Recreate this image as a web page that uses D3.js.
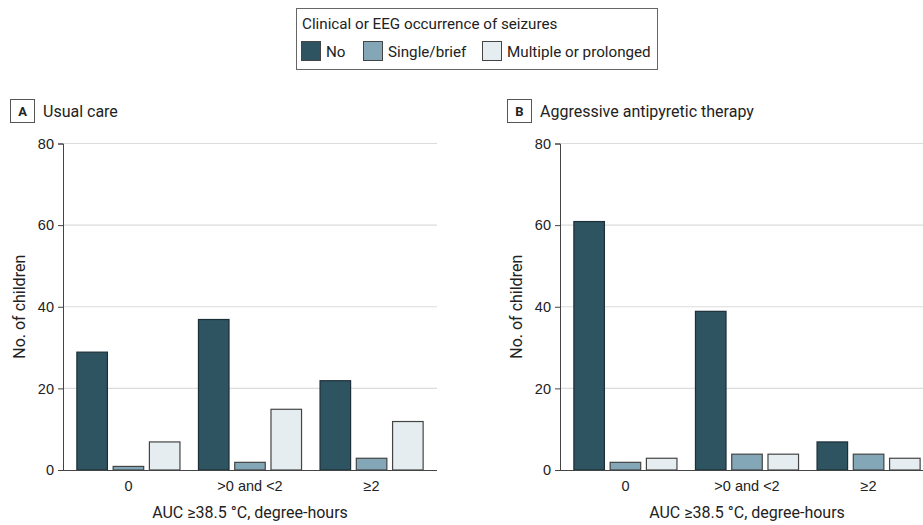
<!DOCTYPE html>
<html>
<head>
<meta charset="utf-8">
<script src="https://cdn.jsdelivr.net/npm/d3@7"></script>
<style>
  body { margin: 0; background: #fff; }
  svg { font-family: Roboto, "Open Sans", sans-serif; }
</style>
</head>
<body>
<svg id="chart" width="923" height="525"></svg>
<script>
'use strict';

const categories = ['0', '>0 and <2', '≥2'];
const seriesNames = ['No', 'Single/brief', 'Multiple or prolonged'];
const seriesColors = ['#2e5361', '#83a7b6', '#e6edf0'];
const yTicks = [0, 20, 40, 60, 80];

// counts per category, one array per series
const usualNo = [29, 37, 22];
const usualSingle = [1, 2, 3];
const usualMultiple = [7, 15, 12];

const aggressiveNo = [61, 39, 7];
const aggressiveSingle = [2, 4, 4];
const aggressiveMultiple = [3, 4, 3];

const panels = [
  {letter: 'A', title: 'Usual care', left: 63, series: [usualNo, usualSingle, usualMultiple]},
  {letter: 'B', title: 'Aggressive antipyretic therapy', left: 560, series: [aggressiveNo, aggressiveSingle, aggressiveMultiple]}
];

const svg = d3.select('#chart');
const plotW = 374, plotTop = 143.5, plotBottom = 470;

const y = d3.scaleLinear().domain([0, 80]).range([plotBottom, plotTop]);

// legend
const legend = svg.append('g');
legend.append('rect').attr('x', 296.5).attr('y', 8.5).attr('width', 361).attr('height', 61)
  .attr('fill', '#fff').attr('stroke', '#666');
legend.append('text').attr('x', 302).attr('y', 29).attr('font-size', 15.2).attr('fill', '#222')
  .text('Clinical or EEG occurrence of seizures');
const legendX = [301, 363, 482];
seriesNames.forEach((name, i) => {
  legend.append('rect').attr('x', legendX[i] + 0.5).attr('y', 41.5).attr('width', 19).attr('height', 19)
    .attr('fill', seriesColors[i]).attr('stroke', '#444');
  legend.append('text').attr('x', legendX[i] + 25).attr('y', 56.5).attr('font-size', 15.2).attr('fill', '#222')
    .text(name);
});

function renderPanel(panel) {
  const g = svg.append('g');
  const x0 = d3.scaleBand().domain(categories).range([panel.left, panel.left + plotW])
    .paddingInner(0.144).paddingOuter(0.11);
  const x1 = d3.scaleBand().domain(d3.range(seriesNames.length)).range([0, x0.bandwidth()])
    .paddingInner(0.13).paddingOuter(0);

  // panel label box
  g.append('rect').attr('x', panel.left - 52.5).attr('y', 99.5).attr('width', 24).attr('height', 23)
    .attr('fill', '#fff').attr('stroke', '#555');
  g.append('text').attr('x', panel.left - 40.5).attr('y', 116).attr('text-anchor', 'middle')
    .attr('font-size', 13).attr('font-weight', 'bold').attr('fill', '#222').text(panel.letter);
  g.append('text').attr('x', panel.left - 20).attr('y', 117).attr('font-size', 16).attr('fill', '#222')
    .text(panel.title);

  // grid
  g.append('g').selectAll('line').data(yTicks.filter(t => t > 0)).join('line')
    .attr('x1', panel.left).attr('x2', panel.left + plotW)
    .attr('y1', d => y(d)).attr('y2', d => y(d))
    .attr('stroke', '#dcdcdc').attr('stroke-width', 1.2);

  // y axis
  const yAxis = g.append('g').attr('transform', `translate(${panel.left},0)`)
    .call(d3.axisLeft(y).tickValues(yTicks).tickSize(5).tickPadding(4));
  yAxis.select('.domain').attr('stroke', '#444');
  yAxis.selectAll('.tick line').attr('stroke', '#444');
  yAxis.selectAll('.tick text').attr('font-size', 14.5).attr('fill', '#222').attr('font-family', null);

  // bars
  panel.series.forEach((values, s) => {
    g.append('g').selectAll('rect').data(values).join('rect')
      .attr('x', (d, i) => x0(categories[i]) + x1(s) + 0.5)
      .attr('y', d => y(d) + 0.5)
      .attr('width', x1.bandwidth() - 1)
      .attr('height', d => Math.max(0, plotBottom - y(d) - 0.5))
      .attr('fill', seriesColors[s])
      .attr('stroke', s === 0 ? '#1d2f36' : '#444')
      .attr('stroke-width', 1.2);
  });

  // x axis
  const xAxis = g.append('g').attr('transform', `translate(0,${plotBottom})`)
    .call(d3.axisBottom(x0).tickSize(0).tickPadding(11));
  xAxis.select('.domain').attr('stroke', '#444').attr('d', `M${panel.left},0.5H${panel.left + plotW}`);
  xAxis.selectAll('.tick text').attr('font-size', 14.5).attr('fill', '#222').attr('font-family', null);

  g.append('text').attr('x', x0(categories[1]) + x0.bandwidth() / 2).attr('y', 518)
    .attr('text-anchor', 'middle').attr('font-size', 16).attr('fill', '#222')
    .text('AUC ≥38.5 °C, degree-hours');

  g.append('text')
    .attr('transform', `translate(${panel.left - 38},${(plotTop + plotBottom) / 2}) rotate(-90)`)
    .attr('text-anchor', 'middle').attr('font-size', 16).attr('fill', '#222')
    .text('No. of children');
}

panels.forEach(renderPanel);
</script>
</body>
</html>
